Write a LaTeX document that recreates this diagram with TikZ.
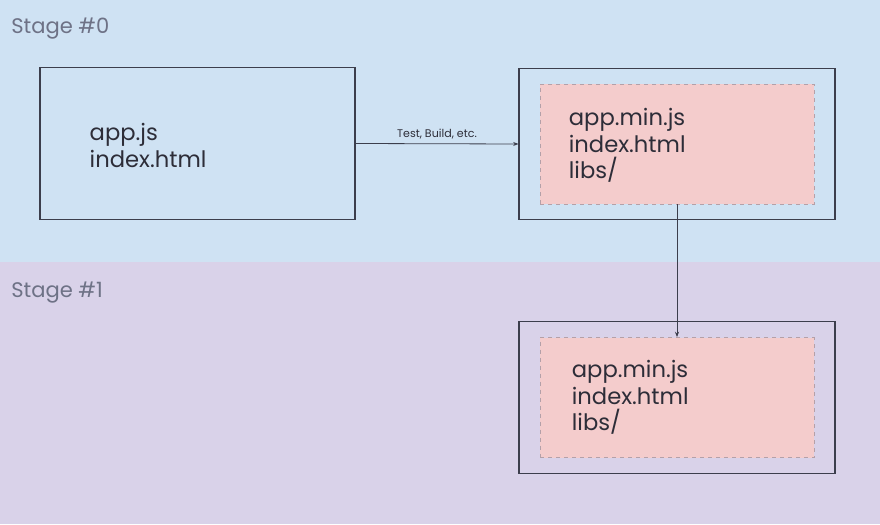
\documentclass[tikz,border=0pt]{standalone}
\usepackage{fontspec}
\setmainfont{Poppins}
\usetikzlibrary{positioning,arrows.meta}

\definecolor{stagezero}{RGB}{207,226,243}
\definecolor{stageone}{RGB}{217,210,233}
\definecolor{bundle}{RGB}{244,204,204}
\definecolor{boxline}{RGB}{60,62,76}
\definecolor{dashline}{RGB}{180,160,168}
\definecolor{labelgray}{RGB}{110,114,134}
\definecolor{filetext}{RGB}{45,45,56}

\tikzset{
  folder/.style={draw=boxline, line width=0.8pt, minimum width=237pt, minimum height=113.5pt, inner sep=0pt},
  bundlebox/.style={draw=dashline, fill=bundle, dashed, line width=0.6pt, minimum width=205.5pt, minimum height=90pt, inner sep=0pt},
  files/.style={anchor=west, align=left, inner sep=0pt, font=\fontsize{17}{20}\selectfont, text=filetext},
  stagename/.style={anchor=west, inner sep=0pt, font=\fontsize{15.8}{18}\selectfont, text=labelgray},
  flow/.style={draw=boxline, line width=0.6pt, -{Stealth[length=4pt,width=3pt]}}
}

\begin{document}
\begin{tikzpicture}[x=0.75pt,y=0.75pt,yscale=-1,xscale=1]
  \useasboundingbox (0,0) rectangle (880,524);

  %Shape: Rectangle (stage bands)
  \fill [stagezero] (0,0) rectangle (880,262);
  \fill [stageone] (0,262) rectangle (880,524);

  % Text Node
  \node [stagename] (stage0) at (11,29) {Stage \#0};
  % Text Node
  \node [stagename] (stage1) at (11,293) {Stage \#1};

  %Shape: Rectangle (sources)
  \node [folder, minimum width=236.25pt] (src) at (197.5,143.5) {};
  \node [files] (srcfiles) at ([xshift=37.5pt,yshift=1.5pt]src.west) {app.js\\index.html};

  %Shape: Rectangle (build output, stage 0)
  \node [folder] (outzero) at (677,144) {};
  \node [bundlebox] (bundlezero) at (677,144) {};
  \node [files] (fileszero) at ([xshift=21.75pt,yshift=1pt]bundlezero.west) {app.min.js\\index.html\\libs/};

  %Shape: Rectangle (build output, stage 1)
  \node [folder] (outone) at (677,397.5) {};
  \node [bundlebox] (bundleone) at (677,397.5) {};
  \node [files] (filesone) at ([xshift=24pt]bundleone.west) {app.min.js\\index.html\\libs/};

  %Straight Lines
  \draw [flow] (src.east) -- node [above=3pt, inner sep=0pt, font=\fontsize{8.3}{10}\selectfont, text=filetext] (steps) {Test, Build, etc.} (outzero.west);
  %Straight Lines
  \draw [flow] (bundlezero.south) -- (bundleone.north);

\end{tikzpicture}
\end{document}
